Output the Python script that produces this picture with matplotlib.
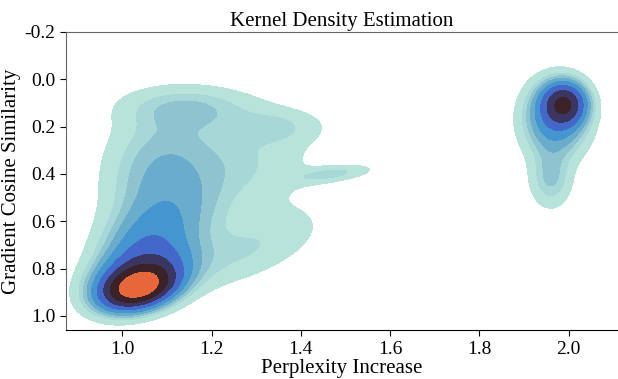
import numpy as np
import matplotlib
matplotlib.use("Agg")
import matplotlib.pyplot as plt

plt.rcParams['font.family'] = ['Liberation Serif', 'DejaVu Serif']
plt.rcParams['axes.unicode_minus'] = False

# Componentes gaussianos que describen la densidad
cx = [1.035, 1.04, 1.05, 1.06, 1.14, 1.12, 1.30, 1.28, 1.47, 1.35, 1.15, 1.99, 1.97, 1.96]
cy = [0.88, 0.84, 0.70, 0.45, 0.55, 0.27, 0.35, 0.72, 0.40, 0.20, 0.12, 0.105, 0.17, 0.42]
sx = [0.045, 0.065, 0.065, 0.07, 0.08, 0.08, 0.09, 0.11, 0.06, 0.07, 0.10, 0.03, 0.045, 0.03]
sy = [0.05, 0.08, 0.10, 0.15, 0.15, 0.12, 0.13, 0.11, 0.025, 0.05, 0.06, 0.055, 0.10, 0.08]
rho = [-0.3, -0.3, -0.2, 0.0, -0.3, 0.0, 0.0, -0.6, -0.5, 0.0, 0.0, 0.0, 0.0, 0.0]
w = [0.13, 0.15, 0.07, 0.06, 0.07, 0.038, 0.04, 0.04, 0.006, 0.012, 0.03, 0.06, 0.07, 0.015]

colores = ['#b8e3da', '#a7d7d6', '#8ec4cf', '#6aaccb', '#4595d0',
           '#4468c9', '#3a3561', '#3a2228', '#e8673a']

# Malla para evaluar la densidad
xx, yy = np.meshgrid(np.linspace(0.85, 2.15, 400), np.linspace(-0.25, 1.1, 400))
dens = np.zeros_like(xx)
for i in range(len(cx)):
    dx = (xx - cx[i]) / sx[i]
    dy = (yy - cy[i]) / sy[i]
    r = rho[i]
    q = (dx**2 - 2 * r * dx * dy + dy**2) / (1 - r**2)
    dens += w[i] * np.exp(-0.5 * q) / (2 * np.pi * sx[i] * sy[i] * np.sqrt(1 - r**2))

# Niveles por iso-proporcion (como seaborn, levels=10, thresh=0.05)
vals = np.sort(dens.ravel())[::-1]
acum = np.cumsum(vals) / vals.sum()
props = np.linspace(0.05, 1, 10)
idx = np.searchsorted(acum, 1 - props)
niveles = np.sort(np.take(vals, idx, mode='clip'))

fig = plt.figure(figsize=(6.18, 3.79), dpi=100)
ax = fig.add_axes([0.107, 0.129, 0.891, 0.787])
ax.contourf(xx, yy, dens, levels=niveles, colors=colores)

ax.set_xlim(0.874, 2.108)
ax.set_ylim(1.06, -0.2)
ax.set_xticks([1.0, 1.2, 1.4, 1.6, 1.8, 2.0])
ax.set_yticks([-0.2, 0.0, 0.2, 0.4, 0.6, 0.8, 1.0])
ax.tick_params(labelsize=14, length=4)
ax.spines['right'].set_visible(False)
for s in ['top', 'left']:
    ax.spines[s].set_color('#666666')
ax.set_xlabel('Perplexity Increase', fontsize=15, labelpad=1)
ax.set_ylabel('Gradient Cosine Similarity', fontsize=15, labelpad=3)
ax.set_title('Kernel Density Estimation', fontsize=15, pad=4)

fig.savefig('out.png', dpi=100)
